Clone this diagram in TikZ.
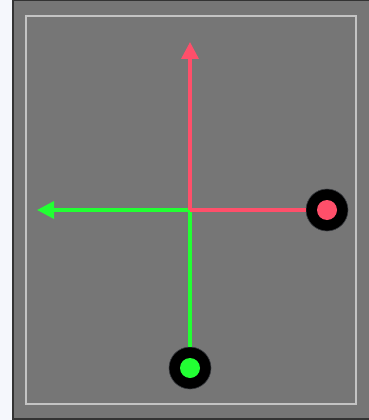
\documentclass[tikz,border=0pt]{standalone}
\usepackage{tikz}
\usetikzlibrary{arrows.meta,positioning}
\definecolor{panel}{HTML}{767676}
\definecolor{rim}{HTML}{C4C4C4}
\definecolor{axred}{HTML}{FF4F6A}
\definecolor{axgreen}{HTML}{22FF33}
\definecolor{pale}{HTML}{F5F7FC}
\begin{document}
\begin{tikzpicture}[x=1pt, y=-1pt,
  knob/.style={circle, draw=black!85!cyan, line width=0.6pt, fill=black, minimum size=42pt, inner sep=0pt},
  dot/.style={circle, fill=#1, minimum size=20pt, inner sep=0pt},
  axis/.style={line width=3.4pt, draw=#1},
  >={Triangle[length=17pt, width=17pt]}]
\useasboundingbox (0,0) rectangle (368,420);
\fill[pale] (0,0) rectangle (13,420);
\fill[panel, draw=black!80, line width=1.5pt] (13,0) rectangle (370,419);
\draw[rim, line width=2pt] (26,16) rectangle (356,404);
\coordinate (origin) at (190,210);
\coordinate (uptip) at (190,42);
\coordinate (lefttip) at (37,210);
\node[knob] (redknob) at (327,210) {};
\node[dot=axred] at (redknob) {};
\node[knob] (greenknob) at (190,368) {};
\node[dot=axgreen] at (greenknob) {};
\draw[axis=axgreen, ->, color=axgreen] (origin) -- (lefttip);
\draw[axis=axgreen] (origin) -- (greenknob.north);
\draw[axis=axred, ->, color=axred] (origin) -- (uptip);
\draw[axis=axred] (origin) -- (redknob.west);
\end{tikzpicture}
\end{document}
